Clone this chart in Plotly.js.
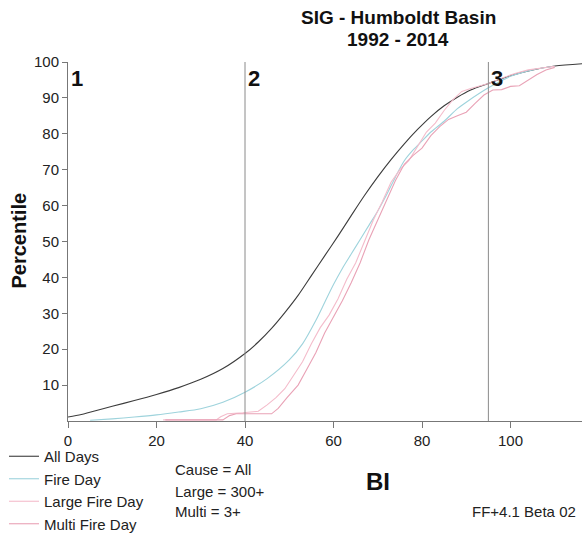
<!DOCTYPE html>
<html>
<head>
<meta charset="utf-8">
<script src="https://cdn.plot.ly/plotly-3.0.1.min.js"></script>
<style>html,body{margin:0;padding:0;background:#fff;}#chart{width:582px;height:540px;}</style>
</head>
<body>
<div id="chart"></div>
<script>
// ---- data ----
const allDaysBI = [0, 3, 6, 10, 15, 20, 25, 30, 35, 40, 43, 46, 49, 52, 55, 58, 61, 64, 67, 70, 73, 76, 79, 82, 85, 88, 91, 95, 100, 105, 110, 117];
const allDaysP  = [1.1, 1.8, 2.8, 4.1, 5.7, 7.4, 9.3, 11.6, 14.6, 18.8, 22, 25.8, 30.2, 35, 40.5, 46, 51.5, 57.2, 62.8, 68, 72.8, 77.2, 81.2, 84.8, 87.8, 90.2, 92.2, 94, 96.2, 97.8, 98.9, 99.6];

const fireDayBI = [5, 10, 15, 20, 25, 30, 35, 40, 45, 50, 53, 56, 58, 60, 62, 64, 66, 68, 70, 72, 74, 76, 78, 80, 82, 85, 88, 90, 95, 100, 105, 110];
const fireDayP  = [0.2, 0.6, 1.1, 1.7, 2.5, 3.4, 5.2, 8, 11.8, 17, 21.5, 28, 33, 38, 42.5, 46.5, 50.5, 54.5, 58.5, 63, 68, 72.5, 75.5, 78, 80.5, 83.5, 87, 88.8, 92.8, 96, 97.8, 98.8];

const largeBI = [21.5, 33.5, 34.5, 36, 39.5, 43, 45, 47, 49, 51, 53, 55, 57, 59, 61, 63, 65, 67, 69, 71, 73, 75, 77, 79, 81, 83, 85, 87, 89, 91, 93, 95, 98, 101, 104, 107, 110];
const largeP  = [0.3, 0.3, 1.2, 2.0, 2.3, 2.7, 4.5, 6.5, 9, 12.7, 16.5, 21.5, 26, 29.5, 34, 39.5, 44, 50, 56, 61, 66.5, 70, 72.5, 76.5, 80.5, 83, 86.5, 89.5, 91.8, 92.6, 93.2, 94, 95.5, 96.8, 97.8, 98.3, 98.8];

const multiBI = [22, 35, 36.5, 38, 46, 47.5, 49.5, 52, 54, 56, 58, 60, 62, 64, 66, 68, 70, 72, 74, 76, 78, 80, 82, 84, 86, 88, 90, 92, 94, 95, 96, 98, 100, 102, 104, 106, 108, 110];
const multiP  = [0.3, 0.3, 1.5, 2.0, 2.0, 3.5, 6.5, 10, 14.5, 19, 24.5, 29, 33.5, 38.5, 44, 50.5, 56, 62, 67, 71.5, 74, 76, 79.5, 82, 84, 85, 86, 88.5, 90.8, 91.5, 92.2, 92.3, 93.2, 93.4, 95, 96.5, 97.8, 98.5];

const seriesNames = ["All Days", "Fire Day", "Large Fire Day", "Multi Fire Day"];
const breakpoints = [0, 40, 95];
const breakpointLabels = ["1", "2", "3"];
const xTicks = [0, 20, 40, 60, 80, 100];
const yTicks = [10, 20, 30, 40, 50, 60, 70, 80, 90, 100];
const titleLines = ["SIG - Humboldt Basin", "1992 - 2014"];
const noteLines = ["Cause = All", "Large = 300+", "Multi = 3+"];
const xTitle = "BI";
const yTitle = "Percentile";
const footer = "FF+4.1 Beta 02";

// ---- layout helpers ----
const W = 582, H = 540, ML = 68, MR = 0, MT = 62, MB = 110;
const PW = W - ML - MR, PH = H - MT - MB;
const px2x = p => (p - ML) / PW;
const py2y = p => (H - MB - p) / PH;
const FONT = "Liberation Sans, Arial, Helvetica, sans-serif";

const colors = ["#3c3c3c", "#9ed3dc", "#f4bccb", "#e9a2b6"];
const shapesLine = ["spline", "spline", "linear", "linear"];
const xs = [allDaysBI, fireDayBI, largeBI, multiBI];
const ys = [allDaysP, fireDayP, largeP, multiP];

const traces = seriesNames.map((n, i) => ({
  x: xs[i], y: ys[i], name: n, type: "scatter", mode: "lines",
  line: {color: colors[i], width: 1.1, shape: shapesLine[i], smoothing: 0.8},
  legendgroup: "g" + i,
  cliponaxis: true
}));

const shapes = breakpoints.filter(b => b > 0).map(b => ({
  type: "line", xref: "x", yref: "y", x0: b, x1: b, y0: 0, y1: 100,
  line: {color: "#8a8a8a", width: 1}
}));

const annotations = [];
breakpoints.forEach((b, i) => annotations.push({
  x: b, y: 100, xref: "x", yref: "y", text: breakpointLabels[i], showarrow: false,
  xanchor: "left", yanchor: "top", xshift: 1, yshift: -2,
  font: {family: FONT, size: 22, color: "#111", weight: "bold"}
}));
titleLines.forEach((t, i) => annotations.push({
  x: px2x(398), y: py2y(i === 0 ? 16.5 : 38.5), xref: "paper", yref: "paper", text: "<b>" + t + "</b>",
  showarrow: false, xanchor: "center", yanchor: "middle",
  font: {family: FONT, size: 19, color: "#111"}
}));
noteLines.forEach((t, i) => annotations.push({
  x: px2x(173), y: py2y([480, 502, 523][i]), xref: "paper", yref: "paper", text: t,
  showarrow: false, xanchor: "left", yanchor: "middle",
  font: {family: FONT, size: 15, color: "#222"}
}));
annotations.push({
  x: px2x(378), y: py2y(492), xref: "paper", yref: "paper", text: "<b>" + xTitle + "</b>",
  showarrow: false, xanchor: "center", yanchor: "middle",
  font: {family: FONT, size: 24, color: "#111"}
});
annotations.push({
  x: px2x(578), y: py2y(523), xref: "paper", yref: "paper", text: footer,
  showarrow: false, xanchor: "right", yanchor: "middle",
  font: {family: FONT, size: 15, color: "#222"}
});
annotations.push({
  x: px2x(19), y: py2y(245), xref: "paper", yref: "paper", text: "<b>" + yTitle + "</b>",
  showarrow: false, xanchor: "center", yanchor: "middle", textangle: -90,
  font: {family: FONT, size: 20, color: "#111"}
});

const layout = {
  width: W, height: H,
  margin: {l: ML, r: MR, t: MT, b: MB, pad: 0},
  paper_bgcolor: "#fff", plot_bgcolor: "#fff",
  font: {family: FONT, size: 15, color: "#222"},
  showlegend: true,
  legend: {
    x: px2x(4), y: py2y(450), xanchor: "left", yanchor: "top",
    bgcolor: "rgba(0,0,0,0)", borderwidth: 0,
    font: {family: FONT, size: 15, color: "#222"},
    itemwidth: 30, tracegroupgap: 2, traceorder: "normal"
  },
  xaxis: {
    range: [0, PW / 4.425], tickvals: xTicks, ticktext: xTicks.map(String),
    showgrid: false, zeroline: false, showline: true, linecolor: "#777", linewidth: 1,
    ticks: "outside", ticklen: 6, tickcolor: "#777",
    tickfont: {family: FONT, size: 15, color: "#222"}, fixedrange: true
  },
  yaxis: {
    range: [0, 100], tickvals: yTicks, ticktext: yTicks.map(String),
    showgrid: false, zeroline: false, showline: true, linecolor: "#777", linewidth: 1,
    ticks: "outside", ticklen: 5, tickcolor: "#777",
    tickfont: {family: FONT, size: 15, color: "#222"}, fixedrange: true
  },
  shapes: shapes,
  annotations: annotations
};

Plotly.newPlot("chart", traces, layout, {staticPlot: true, displayModeBar: false});
</script>
</body>
</html>
